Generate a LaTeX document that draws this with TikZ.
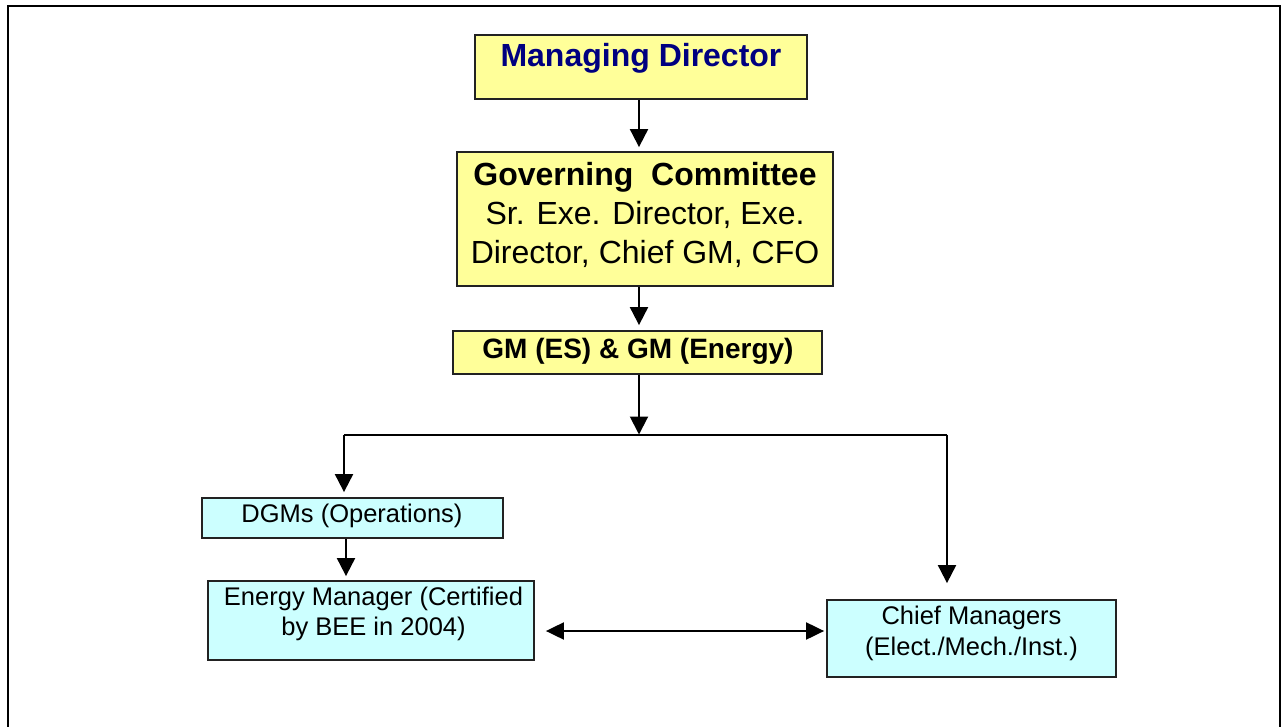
\documentclass[tikz,border=0pt]{standalone}
\usepackage{fontspec}
\setmainfont{Liberation Sans}
\usetikzlibrary{arrows.meta,calc}
\definecolor{boxyellow}{HTML}{FFFF99}
\definecolor{boxcyan}{HTML}{CCFFFF}
\definecolor{mdblue}{HTML}{000080}
\definecolor{boxline}{HTML}{222222}
\begin{document}
\begin{tikzpicture}[x=1pt,y=-1pt,
  ybox/.style={draw=boxline, line width=1.8pt, fill=boxyellow, inner sep=0pt, rectangle},
  cbox/.style={draw=boxline, line width=1.8pt, fill=boxcyan, inner sep=0pt, rectangle},
  lbl/.style={inner sep=0pt, align=center},
  conn/.style={line width=2pt},
  arr/.style={conn, -{Triangle[width=18pt,length=18pt]}},
  dbl/.style={conn, {Triangle[width=17pt,length=18pt]}-{Triangle[width=17pt,length=18pt]}}
]
\useasboundingbox (0,0) rectangle (1281,727);
% outer frame (open at the bottom)
\draw[line width=2pt] (7.5,727) -- (7.5,6.5) -- (1279.5,6.5) -- (1279.5,727);

% boxes
\node[ybox, minimum width=332pt, minimum height=64pt] (md) at (641,67) {};
\node[ybox, minimum width=376pt, minimum height=134pt] (gc) at (645,219) {};
\node[ybox, minimum width=369pt, minimum height=43pt] (gm) at (637.5,352.5) {};
\node[cbox, minimum width=301pt, minimum height=40pt] (dgm) at (352.5,518) {};
\node[cbox, minimum width=326pt, minimum height=79pt] (em) at (371,620.5) {};
\node[cbox, minimum width=289pt, minimum height=77pt] (cm) at (971.5,638.5) {};

% labels
\node[lbl, anchor=base, text=mdblue, font=\fontsize{32}{39}\selectfont\bfseries] (mdt) at (641,67) {Managing Director};
\node[lbl, font=\fontsize{32}{39}\selectfont] (gct) at (645,215)
  {\textbf{Governing\ \ Committee}\\Sr. Exe. Director, Exe.\\Director, Chief GM, CFO};
\node[lbl, anchor=base, font=\fontsize{28}{34}\selectfont\bfseries] (gmt) at (638,358) {GM (ES) \& GM (Energy)};
\node[lbl, anchor=base, font=\fontsize{25.5}{30}\selectfont] (dgmt) at (352,522) {DGMs (Operations)};
\node[lbl, font=\fontsize{25.5}{30}\selectfont] (emt) at (373.5,614.4) {Energy Manager (Certified\\by BEE in 2004)};
\node[lbl, font=\fontsize{25.5}{31}\selectfont] (cmt) at (971.5,632.9) {Chief Managers\\(Elect./Mech./Inst.)};

% junction coordinates
\coordinate (jl) at (344,434.5);
\coordinate (jc) at (639,434.5);
\coordinate (jr) at (947,434.5);

% connectors
\draw[arr, shorten >=4pt] (md.south -| jc) -- (jc |- gc.north);
\draw[arr, shorten >=5pt] (gc.south -| jc) -- (jc |- gm.north);
\draw[arr] (gm.south -| jc) -- (jc);
\draw[conn] (jl) -- (jr);
\draw[arr, shorten >=5pt] (jl) -- (jl |- dgm.north);
\draw[arr, shorten >=4pt] (dgm.south -| 346,0) -- (346,0 |- em.north);
\draw[arr, shorten >=16pt] (jr) -- (jr |- cm.north);
\draw[dbl, shorten <=11pt, shorten >=2pt] ([yshift=-10.5pt]em.east) -- ([yshift=-10.5pt]em.east -| cm.west);
\end{tikzpicture}
\end{document}
